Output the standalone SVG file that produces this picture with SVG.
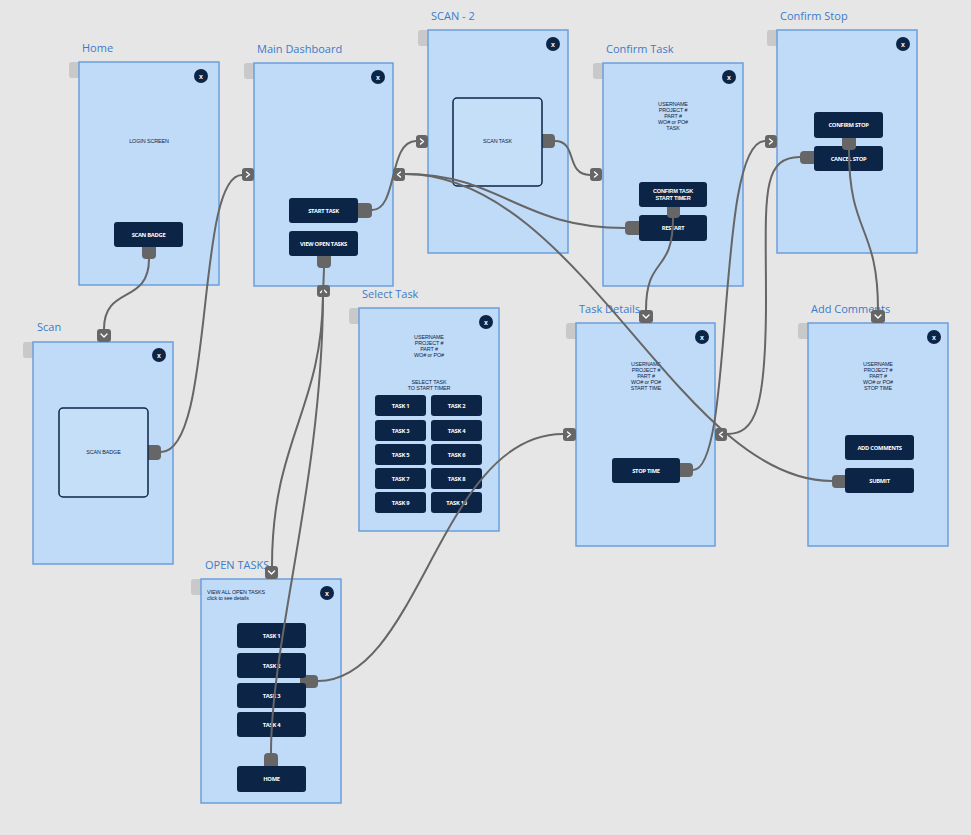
<svg xmlns="http://www.w3.org/2000/svg" width="971" height="835" viewBox="0 0 971 835">
<defs>
<style>
.bg{fill:#e6e6e6}
.tab{fill:#c9c9c9}
.panel{fill:#c0dbf7;stroke:#6b9fdc;stroke-width:1.5}
.lbl{font-family:"Open Sans","Noto Sans",sans-serif;font-size:11px;fill:#3a7bcc}
.cls{fill:#0c2547}
.clst{font-family:"Liberation Sans",sans-serif;font-size:7px;font-weight:bold;fill:#fff;text-anchor:middle}
.btn{fill:#0c2547}
.bt{font-family:"Open Sans","Noto Sans",sans-serif;font-size:5.8px;font-weight:bold;fill:#fff;text-anchor:middle;letter-spacing:-0.3px}
.bt2{font-family:"Liberation Sans",sans-serif;font-size:5.6px;font-weight:bold;fill:#fff;text-anchor:middle;letter-spacing:-0.2px}
.sm{font-family:"Liberation Sans",sans-serif;font-size:5.4px;fill:#0c2547;text-anchor:middle;letter-spacing:-0.1px}
.sml{font-family:"Liberation Sans",sans-serif;font-size:5.4px;fill:#0c2547;letter-spacing:-0.1px}
.box{fill:#c6dff9;stroke:#0c2547;stroke-width:1.5}
.port{fill:#666}
.chev{fill:none;stroke:#fff;stroke-width:1.4;stroke-linecap:round;stroke-linejoin:round}
.conn{fill:none;stroke:#666;stroke-width:2}
</style>
</defs>
<rect class="bg" x="0" y="0" width="971" height="835"/>

<g id="home">
<rect class="tab" x="69" y="62" width="20" height="16" rx="3"/>
<rect class="panel" x="79" y="62" width="140" height="223"/>
<text class="lbl" x="82" y="52">Home</text>
<circle class="cls" cx="201" cy="76" r="7"/><text class="clst" x="201" y="78.5">x</text>
<text class="sm" x="149" y="143">LOGIN SCREEN</text>
<rect class="port" x="142" y="241" width="14" height="18" rx="4"/>
<rect class="btn" x="114" y="222" width="69" height="25" rx="3"/>
<text class="bt" x="148.5" y="236.5">SCAN BADGE</text>
</g>

<g id="main-dashboard">
<rect class="tab" x="244" y="63" width="20" height="16" rx="3"/>
<rect class="panel" x="254" y="63" width="139" height="223"/>
<text class="lbl" x="257" y="53">Main Dashboard</text>
<circle class="cls" cx="378" cy="77" r="7"/><text class="clst" x="378" y="79.5">x</text>
<rect class="port" x="352" y="203" width="20" height="15" rx="4"/>
<rect class="port" x="317" y="250" width="14" height="18" rx="4"/>
<rect class="btn" x="289" y="198" width="69" height="25" rx="3"/>
<text class="bt" x="323.5" y="212.5">START TASK</text>
<rect class="btn" x="289" y="231" width="69" height="25" rx="3"/>
<text class="bt" x="323.5" y="245.5">VIEW OPEN TASKS</text>
<rect class="port" x="242" y="168" width="12" height="13" rx="3"/>
<path class="chev" d="M246.5,172 L249.5,174.5 L246.5,177"/>
<rect class="port" x="393" y="168" width="12" height="13" rx="3"/>
<path class="chev" d="M400.5,172 L397.5,174.5 L400.5,177"/>
<rect class="port" x="317" y="285" width="13" height="12" rx="3"/>
<path class="chev" d="M320.5,292.5 L323.5,289.5 L326.5,292.5"/>
</g>

<g id="scan-2">
<rect class="tab" x="418" y="30" width="20" height="16" rx="3"/>
<rect class="panel" x="428" y="30" width="140" height="223"/>
<text class="lbl" x="431" y="20">SCAN - 2</text>
<circle class="cls" cx="553" cy="44" r="7"/><text class="clst" x="553" y="46.5">x</text>
<rect class="port" x="536" y="134" width="19" height="14" rx="4"/>
<rect class="box" x="453" y="98" width="89" height="88" rx="4"/>
<text class="sm" x="497.5" y="143">SCAN TASK</text>
<rect class="port" x="416" y="135" width="12" height="13" rx="3"/>
<path class="chev" d="M420.5,139 L423.5,141.5 L420.5,144"/>
</g>

<g id="confirm-task">
<rect class="tab" x="593" y="63" width="20" height="16" rx="3"/>
<rect class="panel" x="603" y="63" width="140" height="223"/>
<text class="lbl" x="606" y="53">Confirm Task</text>
<circle class="cls" cx="729" cy="77" r="7"/><text class="clst" x="729" y="79.5">x</text>
<text class="sm" x="673" y="105.5">USERNAME</text>
<text class="sm" x="673" y="111.7">PROJECT #</text>
<text class="sm" x="673" y="117.9">PART #</text>
<text class="sm" x="673" y="124.1">WO# or PO#</text>
<text class="sm" x="673" y="130.3">TASK</text>
<rect class="port" x="625" y="221" width="20" height="14" rx="4"/>
<rect class="btn" x="639" y="215" width="68" height="26" rx="3"/>
<text class="bt" x="673" y="230">RESTART</text>
<rect class="port" x="667" y="201" width="13" height="17" rx="4"/>
<rect class="btn" x="639" y="182" width="68" height="25" rx="3"/>
<text class="bt2" x="673" y="192.5">CONFIRM TASK</text>
<text class="bt2" x="673" y="199.5">START TIMER</text>
<rect class="port" x="590" y="168" width="12" height="13" rx="3"/>
<path class="chev" d="M594.5,172 L597.5,174.5 L594.5,177"/>
</g>

<g id="confirm-stop">
<rect class="tab" x="767" y="30" width="20" height="16" rx="3"/>
<rect class="panel" x="777" y="30" width="140" height="223"/>
<text class="lbl" x="780" y="20">Confirm Stop</text>
<circle class="cls" cx="903" cy="44" r="7"/><text class="clst" x="903" y="46.5">x</text>
<rect class="port" x="800" y="151" width="20" height="13" rx="4"/>
<rect class="btn" x="814" y="146" width="69" height="25" rx="3"/>
<text class="bt" x="848.5" y="160.5">CANCEL STOP</text>
<rect class="port" x="842" y="132" width="14" height="18" rx="4"/>
<rect class="btn" x="814" y="112" width="69" height="26" rx="3"/>
<text class="bt" x="848.5" y="127">CONFIRM STOP</text>
<rect class="port" x="765" y="135" width="12" height="13" rx="3"/>
<path class="chev" d="M769.5,139 L772.5,141.5 L769.5,144"/>
</g>

<g id="scan">
<rect class="tab" x="23" y="342" width="20" height="16" rx="3"/>
<rect class="panel" x="33" y="342" width="140" height="222"/>
<text class="lbl" x="37" y="331">Scan</text>
<circle class="cls" cx="159" cy="355" r="7"/><text class="clst" x="159" y="357.5">x</text>
<rect class="port" x="142" y="445" width="19" height="15" rx="4"/>
<rect class="box" x="59" y="408" width="89" height="89" rx="4"/>
<text class="sm" x="103.5" y="454">SCAN BADGE</text>
<rect class="port" x="97" y="329" width="14" height="13" rx="3"/>
<path class="chev" d="M101,334 L104,337 L107,334"/>
</g>

<g id="select-task">
<rect class="tab" x="349" y="308" width="20" height="16" rx="3"/>
<rect class="panel" x="359" y="308" width="140" height="223"/>
<text class="lbl" x="362" y="298">Select Task</text>
<circle class="cls" cx="486" cy="322" r="7"/><text class="clst" x="486" y="324.5">x</text>
<text class="sm" x="429" y="338.5">USERNAME</text>
<text class="sm" x="429" y="344.7">PROJECT #</text>
<text class="sm" x="429" y="350.9">PART #</text>
<text class="sm" x="429" y="357.1">WO# or PO#</text>
<text class="sm" x="429" y="383.5">SELECT TASK</text>
<text class="sm" x="429" y="389.7">TO START TIMER</text>
<rect class="btn" x="375" y="395" width="51" height="21" rx="3"/><text class="bt" x="400.5" y="407.5">TASK 1</text>
<rect class="btn" x="431" y="395" width="51" height="21" rx="3"/><text class="bt" x="456.5" y="407.5">TASK 2</text>
<rect class="btn" x="375" y="420" width="51" height="21" rx="3"/><text class="bt" x="400.5" y="432.5">TASK 3</text>
<rect class="btn" x="431" y="420" width="51" height="21" rx="3"/><text class="bt" x="456.5" y="432.5">TASK 4</text>
<rect class="btn" x="375" y="444" width="51" height="21" rx="3"/><text class="bt" x="400.5" y="456.5">TASK 5</text>
<rect class="btn" x="431" y="444" width="51" height="21" rx="3"/><text class="bt" x="456.5" y="456.5">TASK 6</text>
<rect class="btn" x="375" y="468" width="51" height="21" rx="3"/><text class="bt" x="400.5" y="480.5">TASK 7</text>
<rect class="btn" x="431" y="468" width="51" height="21" rx="3"/><text class="bt" x="456.5" y="480.5">TASK 8</text>
<rect class="btn" x="375" y="492" width="51" height="21" rx="3"/><text class="bt" x="400.5" y="504.5">TASK 9</text>
<rect class="btn" x="431" y="492" width="51" height="21" rx="3"/><text class="bt" x="456.5" y="504.5">TASK 10</text>
</g>

<g id="task-details">
<rect class="tab" x="566" y="323" width="20" height="16" rx="3"/>
<rect class="panel" x="576" y="323" width="139" height="223"/>
<text class="lbl" x="579" y="313">Task Details</text>
<circle class="cls" cx="702" cy="337" r="7"/><text class="clst" x="702" y="339.5">x</text>
<text class="sm" x="646" y="365.5">USERNAME</text>
<text class="sm" x="646" y="371.7">PROJECT #</text>
<text class="sm" x="646" y="377.9">PART #</text>
<text class="sm" x="646" y="384.1">WO# or PO#</text>
<text class="sm" x="646" y="390.3">START TIME</text>
<rect class="port" x="674" y="463" width="19" height="14" rx="4"/>
<rect class="btn" x="612" y="458" width="68" height="25" rx="3"/>
<text class="bt" x="646" y="472.5">STOP TIME</text>
<rect class="port" x="563" y="428" width="13" height="13" rx="3"/>
<path class="chev" d="M567.5,432 L570.5,434.5 L567.5,437"/>
<rect class="port" x="715" y="428" width="12" height="13" rx="3"/>
<path class="chev" d="M722.5,432 L719.5,434.5 L722.5,437"/>
<rect class="port" x="639" y="310" width="14" height="13" rx="3"/>
<path class="chev" d="M643,315 L646,318 L649,315"/>
</g>

<g id="add-comments">
<rect class="tab" x="798" y="323" width="20" height="16" rx="3"/>
<rect class="panel" x="808" y="323" width="140" height="223"/>
<text class="lbl" x="811" y="313">Add Comments</text>
<circle class="cls" cx="934" cy="337" r="7"/><text class="clst" x="934" y="339.5">x</text>
<text class="sm" x="878" y="365.5">USERNAME</text>
<text class="sm" x="878" y="371.7">PROJECT #</text>
<text class="sm" x="878" y="377.9">PART #</text>
<text class="sm" x="878" y="384.1">WO# or PO#</text>
<text class="sm" x="878" y="390.3">STOP TIME</text>
<rect class="btn" x="845" y="435" width="69" height="25" rx="3"/>
<text class="bt" x="879.5" y="449.5">ADD COMMENTS</text>
<rect class="port" x="832" y="475" width="19" height="13" rx="4"/>
<rect class="btn" x="845" y="468" width="69" height="25" rx="3"/>
<text class="bt" x="879.5" y="482.5">SUBMIT</text>
<rect class="port" x="871" y="310" width="14" height="13" rx="3"/>
<path class="chev" d="M875,315 L878,318 L881,315"/>
</g>

<g id="open-tasks">
<rect class="tab" x="191" y="579" width="20" height="16" rx="3"/>
<rect class="panel" x="201" y="579" width="140" height="224"/>
<text class="lbl" x="205" y="569">OPEN TASKS</text>
<circle class="cls" cx="327" cy="593" r="7"/><text class="clst" x="327" y="595.5">x</text>
<text class="sml" x="207" y="593.5">VIEW ALL OPEN TASKS</text>
<text class="sml" x="207" y="599.8">click to see details</text>
<rect class="port" x="300" y="675" width="18" height="13" rx="4"/>
<rect class="btn" x="237" y="623" width="69" height="25" rx="3"/><text class="bt" x="271.5" y="637.5">TASK 1</text>
<rect class="btn" x="237" y="653" width="69" height="25" rx="3"/><text class="bt" x="271.5" y="667.5">TASK 2</text>
<rect class="btn" x="237" y="683" width="69" height="25" rx="3"/><text class="bt" x="271.5" y="697.5">TASK 3</text>
<rect class="btn" x="237" y="712" width="69" height="25" rx="3"/><text class="bt" x="271.5" y="726.5">TASK 4</text>
<rect class="port" x="264" y="753" width="14" height="18" rx="4"/>
<rect class="btn" x="237" y="766" width="69" height="26" rx="3"/><text class="bt" x="271.5" y="781">HOME</text>
<rect class="port" x="265" y="566" width="13" height="13" rx="3"/>
<path class="chev" d="M268.5,571 L271.5,574 L274.5,571"/>
</g>

<g id="connectors">
<path class="conn" d="M149,259 C149,305 104,285 104,329"/>
<path class="conn" d="M161,452 C215,452 195,175 242,175"/>
<path class="conn" d="M372,210 C398,210 388,141 416,141"/>
<path class="conn" d="M555,141 C578,141 565,175 590,175"/>
<path class="conn" d="M625,228 C520,228 500,174 405,174"/>
<path class="conn" d="M832,481 C680,481 580,174 405,174"/>
<path class="conn" d="M673,218 C673,275 646,255 646,310"/>
<path class="conn" d="M693,470 C735,470 715,141 765,141"/>
<path class="conn" d="M800,157 C760,157 766,200 766,300 C766,410 755,434 727,434"/>
<path class="conn" d="M849,150 C849,235 878,225 878,310"/>
<path class="conn" d="M324,268 L323,295 C322,410 272,440 272,566"/>
<path class="conn" d="M271,753 C271,640 322,480 323,297"/>
<path class="conn" d="M318,681 C420,681 440,434 563,434"/>
</g>
</svg>
